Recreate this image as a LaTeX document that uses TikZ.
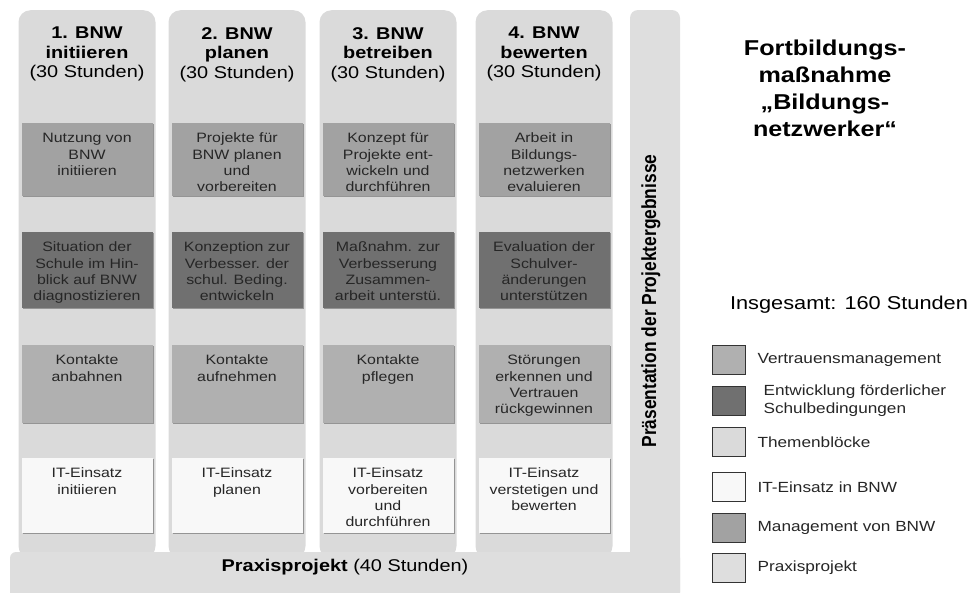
\documentclass[tikz,border=0pt]{standalone}
\usepackage{fontspec}
\setmainfont{Liberation Sans}[FakeStretch=1.17]
\newfontfamily\plainsans{Liberation Sans}
\usetikzlibrary{positioning,shadows}
\tikzstyle{column} = [rectangle, rounded corners=12pt, fill=themen, minimum width=137pt, minimum height=548pt, inner sep=0pt, anchor=north]
\tikzstyle{head} = [align=center, inner sep=0pt, anchor=north, font=\fontsize{17}{19.5}\selectfont]
\tikzstyle{cellbox} = [rectangle, inner sep=0pt, anchor=north, text=black!85, font=\fontsize{13.6}{16.3}\selectfont, drop shadow={shadow xshift=1.2pt, shadow yshift=-1.2pt, fill=black!60, opacity=0.6}]
\tikzstyle{mgmtbox} = [cellbox, fill=mgmt]
\tikzstyle{devbox} = [cellbox, fill=dev]
\tikzstyle{trustbox} = [cellbox, fill=trust]
\tikzstyle{itbox} = [cellbox, fill=itblock]
\tikzstyle{legendbox} = [rectangle, draw=black!80, line width=0.8pt, minimum width=33pt, minimum height=29pt, inner sep=0pt]
\tikzstyle{legendtext} = [align=left, inner sep=0pt, text=black!85, font=\fontsize{14.7}{18}\selectfont]
\definecolor{themen}{RGB}{218,218,218}
\definecolor{mgmt}{RGB}{162,162,162}
\definecolor{dev}{RGB}{112,112,112}
\definecolor{trust}{RGB}{176,176,176}
\definecolor{itblock}{RGB}{248,248,248}
\definecolor{praxisgray}{RGB}{222,222,222}
\newcommand{\cell}[2][75pt]{\parbox[t][#1][t]{131pt}{\centering\rule{0pt}{19.5pt}#2}}

\begin{document}
\begin{tikzpicture}[x=1pt,y=-1pt]
\useasboundingbox (0,0) rectangle (976,592);
% the four blocks
\node (col1) [column] at (87,10) {};
\node (col2) [column] at (237,10) {};
\node (col3) [column] at (388,10) {};
\node (col4) [column] at (544,10) {};
% Praesentation and Praxisprojekt
\fill[praxisgray, rounded corners=8pt] (630,10) rectangle (680,600);
\fill[praxisgray, rounded corners=6pt] (10,552) rectangle (680,600);
\node (praxis) [font=\fontsize{17}{20}\selectfont] at (345,567) {\textbf{Praxisprojekt} (40 Stunden)};
\node (praes) [rotate=90] at (651,301) {\scalebox{1}[1.17]{\plainsans\bfseries\fontsize{17.4}{20}\selectfont Präsentation der Projektergebnisse}};
% headers
\node (head1) [head] at (87,27) {\textbf{1. BNW}\\\textbf{initiieren}\\(30 Stunden)};
\node (head2) [head] at (237,27) {\textbf{2. BNW}\\\textbf{planen}\\(30 Stunden)};
\node (head3) [head] at (388,27) {\textbf{3. BNW}\\\textbf{betreiben}\\(30 Stunden)};
\node (head4) [head] at (544,27) {\textbf{4. BNW}\\\textbf{bewerten}\\(30 Stunden)};
% Management von BNW
\node (mgmt1) [mgmtbox] at (87,123) {\cell[73pt]{Nutzung von\\BNW\\initiieren}};
\node (mgmt2) [mgmtbox] at (237,123) {\cell[73pt]{Projekte für\\BNW planen\\und\\vorbereiten}};
\node (mgmt3) [mgmtbox] at (388,123) {\cell[73pt]{Konzept für\\Projekte ent-\\wickeln und\\durchführen}};
\node (mgmt4) [mgmtbox] at (544,123) {\cell[73pt]{Arbeit in\\Bildungs-\\netzwerken\\evaluieren}};
% Entwicklung foerderlicher Schulbedingungen
\node (dev1) [devbox] at (87,232) {\cell[76pt]{Situation der\\Schule im Hin-\\blick auf BNW\\diagnostizieren}};
\node (dev2) [devbox] at (237,232) {\cell[76pt]{Konzeption zur\\Verbesser. der\\schul. Beding.\\entwickeln}};
\node (dev3) [devbox] at (388,232) {\cell[76pt]{Maßnahm. zur\\Verbesserung\\Zusammen-\\arbeit unterstü.}};
\node (dev4) [devbox] at (544,232) {\cell[76pt]{Evaluation der\\Schulver-\\änderungen\\unterstützen}};
% Vertrauensmanagement
\node (trust1) [trustbox] at (87,345) {\cell[78pt]{Kontakte\\anbahnen}};
\node (trust2) [trustbox] at (237,345) {\cell[78pt]{Kontakte\\aufnehmen}};
\node (trust3) [trustbox] at (388,345) {\cell[78pt]{Kontakte\\pflegen}};
\node (trust4) [trustbox] at (544,345) {\cell[78pt]{Störungen\\erkennen und\\Vertrauen\\rückgewinnen}};
% IT-Einsatz
\node (it1) [itbox] at (87,458) {\cell{IT-Einsatz\\initiieren}};
\node (it2) [itbox] at (237,458) {\cell{IT-Einsatz\\planen}};
\node (it3) [itbox] at (388,458) {\cell{IT-Einsatz\\vorbereiten\\und\\durchführen}};
\node (it4) [itbox] at (544,458) {\cell{IT-Einsatz\\verstetigen und\\bewerten}};
% title and legend
\node (title) [align=center, inner sep=0pt, anchor=north, font=\bfseries\fontsize{21.5}{27}\selectfont] at (825,40) {Fortbildungs-\\maßnahme\\„Bildungs-\\netzwerker“};
\node (total) [font=\fontsize{18.6}{22}\selectfont] at (849,305) {Insgesamt: 160 Stunden};
\node (lg1) [legendbox, fill=trust] at (728.5,360) {};
\node (lg2) [legendbox, fill=dev] at (728.5,400.5) {};
\node (lg3) [legendbox, fill=themen] at (728.5,442) {};
\node (lg4) [legendbox, fill=itblock] at (728.5,487) {};
\node (lg5) [legendbox, fill=mgmt] at (728.5,528) {};
\node (lg6) [legendbox, fill=praxisgray] at (728.5,568) {};
\node (lgtext1) [legendtext, right=12pt of lg1] {Vertrauensmanagement};
\node (lgtext2) [legendtext, right=18pt of lg2] {Entwicklung förderlicher\\Schulbedingungen};
\node (lgtext3) [legendtext, right=12pt of lg3] {Themenblöcke};
\node (lgtext4) [legendtext, right=12pt of lg4] {IT-Einsatz in BNW};
\node (lgtext5) [legendtext, right=12pt of lg5] {Management von BNW};
\node (lgtext6) [legendtext, right=12pt of lg6] {Praxisprojekt};
\end{tikzpicture}
\end{document}
